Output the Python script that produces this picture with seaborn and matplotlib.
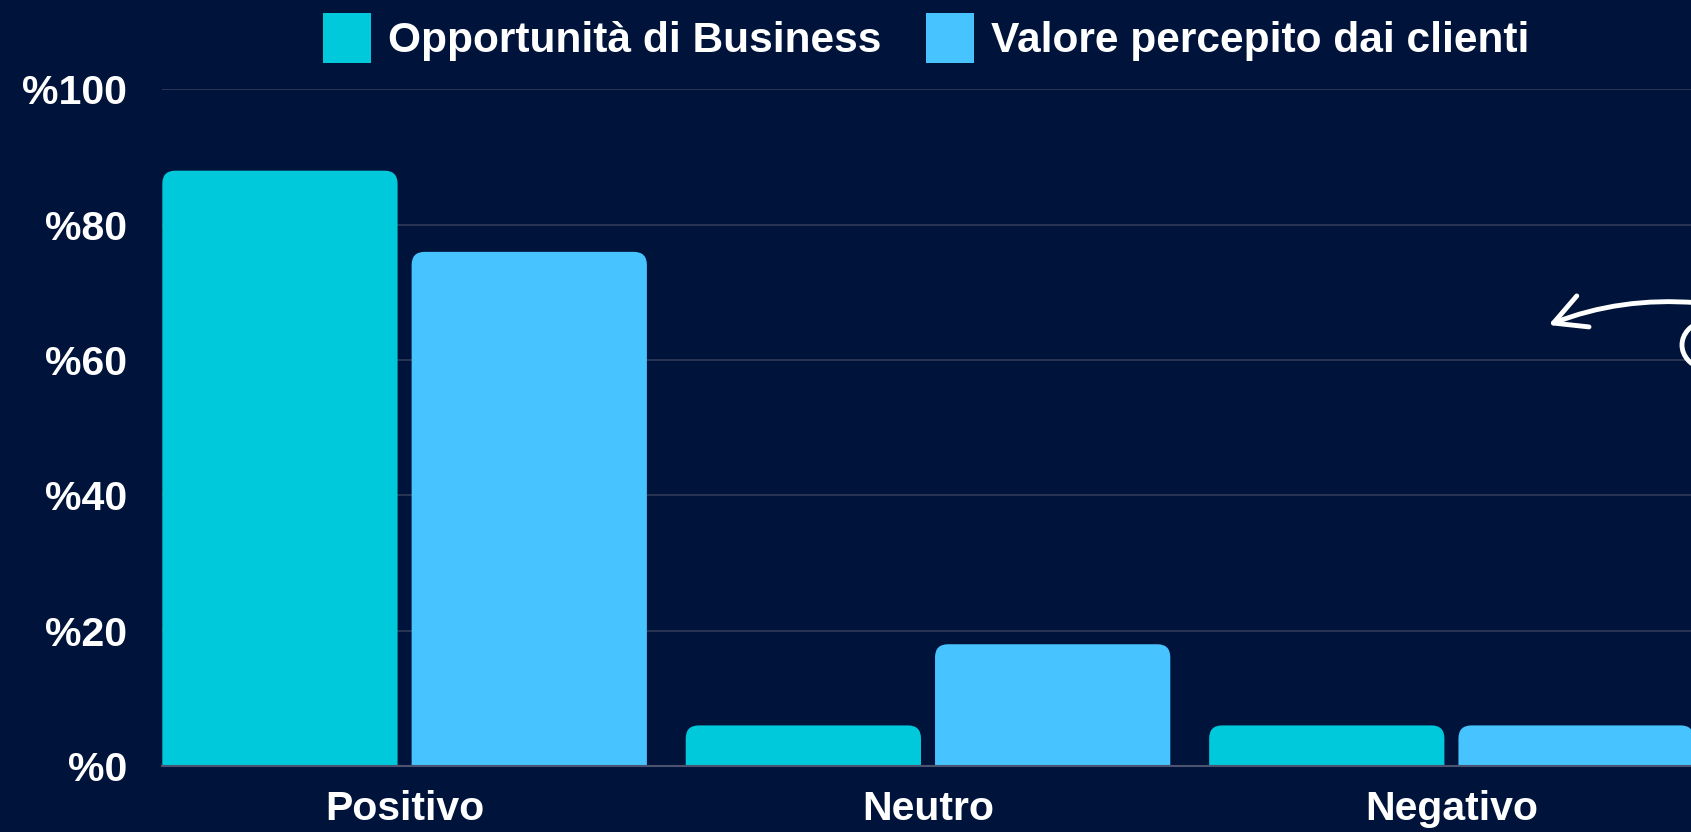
import pandas as pd
import seaborn as sns
import matplotlib.pyplot as plt
from matplotlib.patches import FancyBboxPatch, Patch, Arc

# Data
categories = ["Positivo", "Neutro", "Negativo"]
series_names = ["Opportunità di Business", "Valore percepito dai clienti"]
opportunita = [88, 6, 6]
valore = [76, 18, 6]
y_ticks = [0, 20, 40, 60, 80, 100]
y_tick_labels = ["%0", "%20", "%40", "%60", "%80", "%100"]

BG = "#00133A"
COLORS = ["#00C9DB", "#47C3FF"]

df = pd.DataFrame({
    "categoria": categories * 2,
    "serie": [series_names[0]] * 3 + [series_names[1]] * 3,
    "valore": opportunita + valore,
})

sns.set_theme(style="dark")
plt.rcParams["font.family"] = ["Liberation Sans", "DejaVu Sans"]

W, H = 1691, 832
fig = plt.figure(figsize=(W / 100, H / 100), dpi=100, facecolor=BG)
ax = fig.add_axes([162 / W, 1 - 766 / H, 1 - 162 / W, (766 - 89.5) / H])
ax.set_facecolor(BG)

sns.barplot(data=df, x="categoria", y="valore", hue="serie", order=categories,
            hue_order=series_names, palette=COLORS, width=0.9526, gap=0.0563,
            saturation=1, ax=ax, legend=False, zorder=3)

ax.set_xlim(-0.4635, 2.4577)
ax.set_ylim(0, 100)

# rounded top corners
fig.canvas.draw()
px_x = ax.transData.transform((1, 0))[0] - ax.transData.transform((0, 0))[0]
px_y = ax.transData.transform((0, 1))[1] - ax.transData.transform((0, 0))[1]
radius_px = 13
rx = radius_px / px_x
aspect = px_x / px_y
for bar in list(ax.patches):
    x, w, h = bar.get_x(), bar.get_width(), bar.get_height()
    color = bar.get_facecolor()
    bar.remove()
    ext = 3 * radius_px / px_y
    rounded = FancyBboxPatch((x, -ext), w, h + ext,
                             boxstyle=f"round,pad=0,rounding_size={rx}",
                             mutation_aspect=aspect, facecolor=color,
                             edgecolor="none", zorder=3)
    ax.add_patch(rounded)

ax.set_yticks(y_ticks)
ax.set_yticklabels(y_tick_labels)
ax.tick_params(axis="y", length=0, pad=25, labelsize=29.5, labelcolor="white")
ax.tick_params(axis="x", length=0, pad=17, labelsize=29.5, labelcolor="white")
for lab in ax.get_xticklabels() + ax.get_yticklabels():
    lab.set_fontweight("bold")
ax.set_xlabel("")
ax.set_ylabel("")

ax.yaxis.grid(True, color="#2A3553", linewidth=1.4, zorder=0)
ax.xaxis.grid(False)
for side in ["top", "right", "left"]:
    ax.spines[side].set_visible(False)
ax.spines["bottom"].set_color("#4A5470")
ax.spines["bottom"].set_linewidth(1.5)
ax.spines["bottom"].set_zorder(4)

handles = [Patch(facecolor=c, edgecolor="none") for c in COLORS]
leg = fig.legend(handles, series_names, loc="center", bbox_to_anchor=(926 / W, 1 - 38 / H),
                 ncol=2, frameon=False, handlelength=1.14, handleheight=1.42,
                 handletextpad=0.38, columnspacing=1.06,
                 prop={"size": 30.6, "weight": "bold"})
for t in leg.get_texts():
    t.set_color("white")

# hand-drawn arrow decoration on the right
ax.annotate("", xy=(1546, H - 326), xytext=(1700, H - 303),
            xycoords="figure pixels", textcoords="figure pixels",
            arrowprops=dict(arrowstyle="->,head_length=1.9,head_width=1.0",
                            connectionstyle="arc3,rad=0.12", color="white", lw=3.5))
fig.add_artist(Arc((1712 / W, 1 - 345 / H), 60 / W, 50 / H, transform=fig.transFigure,
                   theta1=100, theta2=260, color="white", lw=3.5))

fig.savefig("out.png", dpi=100, facecolor=BG)
